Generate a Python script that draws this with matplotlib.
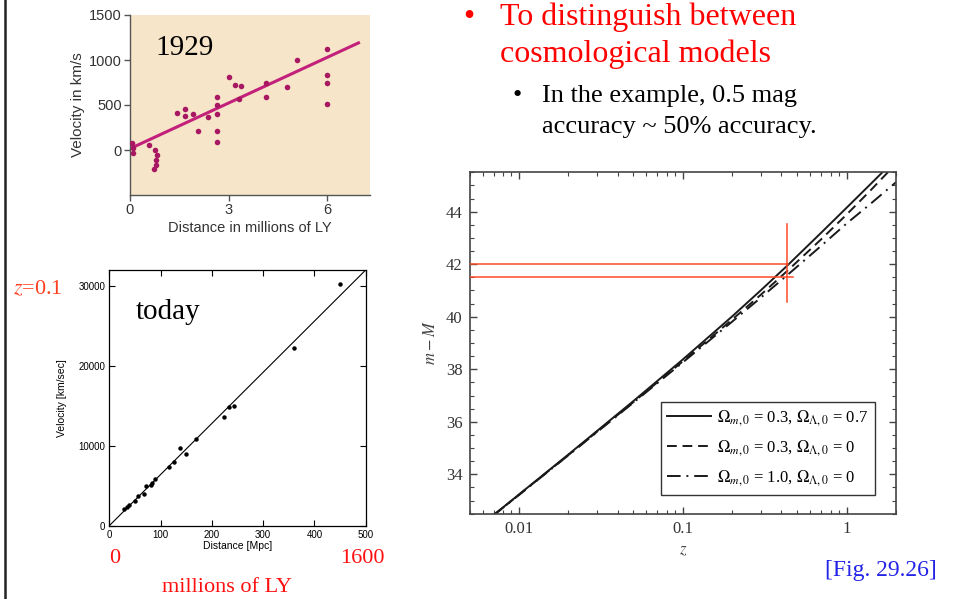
import matplotlib.pyplot as plt
from matplotlib.lines import Line2D
from matplotlib.ticker import FixedLocator, MultipleLocator, LogLocator, NullFormatter, FuncFormatter

plt.rcParams['mathtext.fontset'] = 'stix'

SERIF = 'Liberation Serif'
SANS = 'Liberation Sans'
W, H = 958, 599

# --- 1929 panel (Hubble's original data, distance in millions of LY) ---
hubble_dist = [0.05, 0.10, 0.10, 0.59, 0.76, 0.81, 0.79, 0.79, 0.74,
               1.42, 1.68, 1.68, 1.93, 2.08, 2.37,
               2.64, 2.64, 2.64, 2.64, 2.64,
               3.00, 3.20, 3.38, 3.33, 4.14, 4.14, 4.79, 5.09,
               5.98, 6.00, 6.00, 5.98]
hubble_vel = [74, 19, -30, 56, 0, -56, -111, -167, -210,
              407, 452, 381, 400, 214, 363,
              590, 505, 400, 211, 93,
              806, 722, 707, 570, 745, 589, 704, 996,
              1122, 830, 750, 509]
hubble_fit_x = [0.0, 6.95]
hubble_fit_y = [15, 1190]

# --- today panel (distance in Mpc) ---
today_dist = [28, 35, 39, 50, 56.5, 67.6, 71, 80.7, 84, 89,
              116, 126, 138, 149, 170, 223.6, 233, 243, 360, 450]
today_vel = [2090, 2380, 2590, 3130, 3750, 3970, 5010, 5090, 5300, 5800,
             7300, 7930, 9760, 8930, 10810, 13640, 14900, 15020, 22200, 30210]
today_fit_x = [0, 500]
today_fit_y = [0, 32000]

# --- distance modulus vs redshift panel ---
z_grid = [0.007, 0.01, 0.02, 0.05, 0.1, 0.2, 0.3, 0.43, 0.7, 1.0, 1.4, 2.0]
mu_lcdm = [32.45, 33.23, 34.75, 36.79, 38.37, 40.01, 41.01, 41.92, 43.20, 44.15, 45.05, 46.01]
mu_open = [32.44, 33.22, 34.73, 36.75, 38.30, 39.89, 40.84, 41.72, 42.95, 43.89, 44.81, 45.82]
mu_eds = [32.44, 33.21, 34.72, 36.73, 38.26, 39.81, 40.73, 41.56, 42.70, 43.55, 44.30, 45.12]
model_labels = [r'$\Omega_{m,0}$ = 0.3, $\Omega_{\Lambda,0}$ = 0.7',
                r'$\Omega_{m,0}$ = 0.3, $\Omega_{\Lambda,0}$ = 0',
                r'$\Omega_{m,0}$ = 1.0, $\Omega_{\Lambda,0}$ = 0']
mark_z = 0.43
mark_mu = [42.0, 41.5]
mark_end_z = [0.44, 0.47]
mark_span = [40.55, 43.55]


def px_axes(fig, left, top, right, bottom):
    return fig.add_axes([left / W, 1 - bottom / H, (right - left) / W, (bottom - top) / H])


def px_text(fig, x, y, s, **kw):
    return fig.text(x / W, 1 - y / H, s, **kw)


fig = plt.figure(figsize=(W / 100, H / 100), dpi=100)
fig.add_artist(Line2D([4.5 / W, 4.5 / W], [0, 1], color='#222222', lw=1.8))

# 1929 panel
ax1 = px_axes(fig, 130, 15, 370, 195)
ax1.set_facecolor('#f6e5c8')
ax1.plot(hubble_fit_x, hubble_fit_y, color='#c2207a', lw=2.2, zorder=2)
ax1.plot(hubble_dist, hubble_vel, 'o', color='#a81862', ms=4, mec='none', zorder=3)
ax1.set_xlim(0, 7.3)
ax1.set_ylim(-500, 1500)
ax1.set_xticks([0, 3, 6])
ax1.set_yticks([0, 500, 1000, 1500])
for side in ('top', 'right'):
    ax1.spines[side].set_visible(False)
for side in ('left', 'bottom'):
    ax1.spines[side].set_color('#555555')
    ax1.spines[side].set_linewidth(1.0)
ax1.tick_params(direction='out', length=4, width=1, color='#555555',
                labelsize=10.5, labelcolor='#333333', pad=2)
for lab in ax1.get_xticklabels() + ax1.get_yticklabels():
    lab.set_family(SANS)
ax1.set_xlabel('Distance in millions of LY', family=SANS, fontsize=10.5, color='#333333', labelpad=3)
ax1.set_ylabel('Velocity in km/s', family=SANS, fontsize=11, color='#333333', labelpad=3)
ax1.text(0.104, 0.78, '1929', transform=ax1.transAxes, family=SERIF, fontsize=21, va='baseline')

# today panel
ax2 = px_axes(fig, 109.3, 270, 365.7, 525.7)
ax2.plot(today_fit_x, today_fit_y, color='black', lw=0.8)
ax2.plot(today_dist, today_vel, 'o', color='black', ms=3.2, mec='none')
ax2.set_xlim(0, 500)
ax2.set_ylim(0, 32000)
ax2.set_xticks([0, 100, 200, 300, 400, 500])
ax2.set_yticks([0, 10000, 20000, 30000])
ax2.tick_params(direction='in', length=4.5, width=0.8, top=True, right=True,
                labelsize=7, pad=3)
for lab in ax2.get_xticklabels() + ax2.get_yticklabels():
    lab.set_family(SANS)
for sp in ax2.spines.values():
    sp.set_linewidth(0.9)
ax2.set_xlabel('Distance [Mpc]', family=SANS, fontsize=7.5, labelpad=1)
ax2.set_ylabel('Velocity [km/sec]', family=SANS, fontsize=7.5, labelpad=8)
ax2.text(0.104, 0.81, 'today', transform=ax2.transAxes, family=SERIF, fontsize=21, va='baseline')

# m - M panel
ax3 = px_axes(fig, 469.6, 172.3, 895.9, 513.7)
ax3.plot(z_grid, mu_lcdm, color='#1a1a1a', lw=1.4, label=model_labels[0])
ax3.plot(z_grid, mu_open, color='#1a1a1a', lw=1.4, ls=(0, (5, 3)), label=model_labels[1])
ax3.plot(z_grid, mu_eds, color='#1a1a1a', lw=1.4, ls=(0, (7, 3, 1, 3)), label=model_labels[2])
ax3.set_xscale('log')
ax3.set_xlim(0.005, 2.0)
ax3.set_ylim(32.5, 45.5)
ax3.xaxis.set_major_locator(FixedLocator([0.01, 0.1, 1]))
ax3.xaxis.set_major_formatter(FuncFormatter(lambda v, p: '%g' % v))
ax3.xaxis.set_minor_locator(LogLocator(base=10, subs=range(2, 10)))
ax3.xaxis.set_minor_formatter(NullFormatter())
ax3.yaxis.set_major_locator(MultipleLocator(2))
ax3.yaxis.set_minor_locator(MultipleLocator(0.5))
ax3.tick_params(which='both', direction='in', top=True, right=True, color='#444444')
ax3.tick_params(which='major', length=5, width=1.0, labelsize=12, labelcolor='#333333', pad=5)
ax3.tick_params(which='minor', length=3, width=0.8)
for lab in ax3.get_xticklabels() + ax3.get_yticklabels():
    lab.set_family(SERIF)
for sp in ax3.spines.values():
    sp.set_linewidth(1.2)
    sp.set_color('#444444')
ax3.set_xlabel(r'$z$', fontsize=12, color='#444444', labelpad=3)
ax3.set_ylabel(r'$m - M$', fontsize=12, color='#444444', labelpad=5)

# red guide lines
for mu, zend in zip(mark_mu, mark_end_z):
    ax3.plot([0.005, zend], [mu, mu], color='#ff4a26', lw=1.1, zorder=4)
ax3.plot([mark_z, mark_z], mark_span, color='#ff4a26', lw=1.1, zorder=4)

leg = ax3.legend(loc='lower right', bbox_to_anchor=(0.951, 0.055), borderaxespad=0,
                 frameon=True, fancybox=False, edgecolor='#333333', framealpha=1,
                 handlelength=2.6, handletextpad=0.4, labelspacing=0.6,
                 borderpad=0.4, prop={'family': SERIF, 'size': 12})
leg.get_frame().set_linewidth(1.0)

# slide text
px_text(fig, 469, 25, '\u2022', family=SERIF, fontsize=23, color='#ff0000', ha='center', va='baseline')
px_text(fig, 500, 25, 'To distinguish between', family=SERIF, fontsize=23, color='#ff0000', va='baseline')
px_text(fig, 500, 61.7, 'cosmological models', family=SERIF, fontsize=23, color='#ff0000', va='baseline')
px_text(fig, 517, 101.7, '\u2022', family=SERIF, fontsize=19, ha='center', va='baseline')
px_text(fig, 541.7, 101.7, 'In the example, 0.5 mag', family=SERIF, fontsize=19, va='baseline')
px_text(fig, 541.7, 133.3, 'accuracy ~ 50% accuracy.', family=SERIF, fontsize=19, va='baseline')

px_text(fig, 13, 294, r'$z$=0.1', family=SERIF, fontsize=16, color='#ff4020', va='baseline')
px_text(fig, 115, 563.3, '0', family=SERIF, fontsize=16, color='#ff1010', ha='center', va='baseline')
px_text(fig, 362, 563.3, '1600', family=SERIF, fontsize=16, color='#ff1010', ha='center', va='baseline')
px_text(fig, 227, 591.7, 'millions of LY', family=SERIF, fontsize=16, color='#ff1010', ha='center', va='baseline')
px_text(fig, 937, 576, '[Fig. 29.26]', family=SERIF, fontsize=17, color='#2424e8', ha='right', va='baseline')

fig.savefig('out.png', dpi=100)
